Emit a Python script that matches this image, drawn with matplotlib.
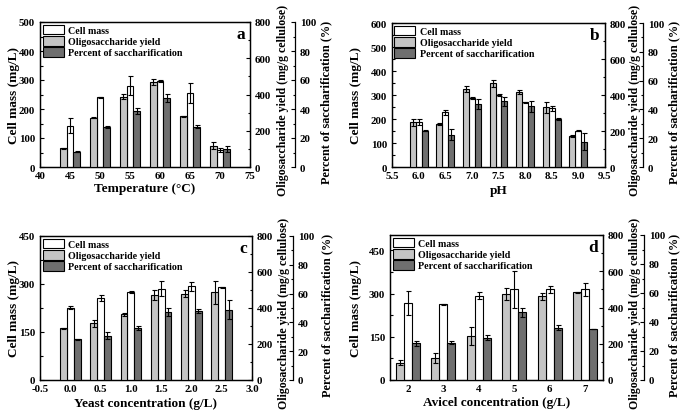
import matplotlib
matplotlib.use("Agg")
import matplotlib.pyplot as plt
from matplotlib.patches import Patch
from matplotlib.ticker import MultipleLocator, FormatStrFormatter

plt.rcParams['font.family'] = ['Liberation Serif', 'DejaVu Serif']
plt.rcParams['font.weight'] = 'bold'
plt.rcParams['axes.labelweight'] = 'bold'

# ---------------- data ----------------
# Panel a: temperature
temp = [45, 50, 55, 60, 65, 70]
temp_cell = [142, 240, 281, 297, 255, 59]
temp_cell_err = [26, 2, 34, 3, 34, 8]
temp_oligo = [103, 273, 388, 471, 279, 118]
temp_oligo_err = [3, 4, 13, 17, 5, 20]
temp_pct = [10.6, 27.9, 38.8, 47.6, 27.9, 12.2]
temp_pct_err = [0.5, 0.7, 2.0, 3.0, 1.2, 2.0]

# Panel b: pH
ph = [6.0, 6.5, 7.0, 7.5, 8.0, 8.5, 9.0]
ph_cell = [187, 228, 287, 300, 269, 245, 152]
ph_cell_err = [14, 10, 3, 3, 3, 10, 2]
ph_oligo = [248, 239, 434, 465, 417, 331, 173]
ph_oligo_err = [18, 5, 15, 20, 12, 32, 5]
ph_pct = [25.3, 22.5, 43.7, 45.5, 42.1, 33.3, 17.5]
ph_pct_err = [0.6, 4.0, 3.5, 3.0, 4.0, 0.8, 6.0]

# Panel c: yeast concentration
yeast = [0.0, 0.5, 1.0, 1.5, 2.0, 2.5]
yeast_cell = [226, 256, 274, 285, 293, 290]
yeast_cell_err = [5, 10, 3, 24, 14, 2]
yeast_oligo = [288, 314, 365, 474, 480, 487]
yeast_oligo_err = [2, 22, 10, 28, 20, 65]
yeast_pct = [28.4, 30.7, 36.0, 47.0, 47.7, 48.8]
yeast_pct_err = [0.4, 2.5, 1.2, 2.8, 1.5, 6.5]

# Panel d: Avicel concentration
avicel = [2, 3, 4, 5, 6, 7]
avicel_cell = [266, 262, 292, 314, 314, 314]
avicel_cell_err = [42, 2, 12, 64, 12, 22]
avicel_oligo = [95, 123, 242, 474, 461, 483]
avicel_oligo_err = [14, 28, 50, 35, 20, 3]
avicel_pct = [25.2, 25.6, 29.3, 46.7, 36.2, 35.2]
avicel_pct_err = [1.5, 1.0, 2.0, 3.0, 2.0, 0.3]

labels = ["Cell mass", "Oligosaccharide yield", "Percent of saccharification"]
colors = ["white", "#c4c4c4", "#6f6f6f"]

W, H = 685, 414
fig = plt.figure(figsize=(W / 100, H / 100), dpi=100)

def px_axes(l, r, t, b):
    return fig.add_axes([l / W, 1 - b / H, (r - l) / W, (b - t) / H])

def style(ax):
    ax.tick_params(direction='in', which='both', labelsize=7.8, width=0.8)
    ax.tick_params(which='major', length=3)
    ax.tick_params(which='minor', length=1.8)
    for s in ax.spines.values():
        s.set_linewidth(0.9)

def panel(box, x, cell, cell_err, oligo, oligo_err, pct, pct_err,
          xlim, xticks, xfmt, cell_max, cell_step, xlabel, letter,
          spine2_px, lab_px):
    l, r, t, b = box
    width_px = r - l
    ax = px_axes(l, r, t, b)
    ax2 = ax.twinx()
    ax3 = ax.twinx()
    ax3.spines['right'].set_position(('axes', 1 + spine2_px / width_px))
    ax3.spines['left'].set_visible(False)
    ax3.spines['top'].set_visible(False)
    ax3.spines['bottom'].set_visible(False)

    spacing = xticks[1] - xticks[0]
    w = 0.225 * spacing
    ekw = dict(ecolor='black', elinewidth=0.8, capsize=1.8, capthick=0.8)
    ax.bar([v for v in x], cell, width=w, color=colors[0], edgecolor='black',
           linewidth=0.8, yerr=cell_err, error_kw=ekw, zorder=3)
    ax2.bar([v - w for v in x], oligo, width=w, color=colors[1], edgecolor='black',
            linewidth=0.8, yerr=oligo_err, error_kw=ekw, zorder=3)
    ax3.bar([v + w for v in x], pct, width=w, color=colors[2], edgecolor='black',
            linewidth=0.8, yerr=pct_err, error_kw=ekw, zorder=3)

    ax.set_xlim(*xlim)
    ax.set_xticks(xticks)
    if xfmt:
        ax.xaxis.set_major_formatter(FormatStrFormatter(xfmt))
    ax.set_ylim(0, cell_max)
    ax.yaxis.set_major_locator(MultipleLocator(cell_step))
    ax.yaxis.set_minor_locator(MultipleLocator(cell_step / 2))
    ax2.set_ylim(0, 800)
    ax2.yaxis.set_major_locator(MultipleLocator(200))
    ax2.yaxis.set_minor_locator(MultipleLocator(100))
    ax3.set_ylim(0, 100)
    ax3.yaxis.set_major_locator(MultipleLocator(20))
    ax3.yaxis.set_minor_locator(MultipleLocator(10))
    for a in (ax, ax2, ax3):
        style(a)
    ax.tick_params(axis='x', pad=3)

    ax.set_xlabel(xlabel, fontsize=9.5)
    ax.set_ylabel("Cell mass (mg/L)", fontsize=9.5)
    ax2.set_ylabel("Oligosaccharide yield (mg/g cellulose)", fontsize=8.6)
    ax3.set_ylabel("Percent of saccharification (%)", fontsize=8.8)
    hpx = b - t
    ax.xaxis.set_label_coords(0.5, -(lab_px[3] - b) / hpx)
    ax.yaxis.set_label_coords((lab_px[0] - l) / width_px, 0.5)
    ax2.yaxis.set_label_coords((lab_px[1] - l) / width_px, 1 - (lab_px[4] - t) / hpx)
    ax3.yaxis.set_label_coords((lab_px[2] - l) / width_px, 1 - (lab_px[5] - t) / hpx)

    ax3.text(0.975, 0.975, letter, transform=ax3.transAxes, ha='right', va='top',
             fontsize=12.5, fontweight='bold')
    handles = [Patch(facecolor=c, edgecolor='black', linewidth=0.8) for c in colors]
    ax3.legend(handles, labels, loc='upper left', frameon=False,
               prop={'size': 7.2, 'weight': 'bold'},
               handlelength=2.1, handleheight=1.15, labelspacing=0.08,
               borderaxespad=0.15, borderpad=0.1, handletextpad=0.45)
    return ax

panel((40, 250, 23, 168), temp, temp_cell, temp_cell_err, temp_oligo, temp_oligo_err,
      temp_pct, temp_pct_err, (40, 75), [40, 45, 50, 55, 60, 65, 70, 75], None,
      500, 100, "Temperature (\u00b0C)", "a", 45, (20, 277, 320, 183, 100, 102))

panel((392, 605, 24, 168), ph, ph_cell, ph_cell_err, ph_oligo, ph_oligo_err,
      ph_pct, ph_pct_err, (5.5, 9.5), [5.5, 6.0, 6.5, 7.0, 7.5, 8.0, 8.5, 9.0, 9.5], '%.1f',
      600, 100, "pH", "b", 38, (362, 629, 668, 185, 100, 102))

panel((40, 252, 237, 381), yeast, yeast_cell, yeast_cell_err, yeast_oligo, yeast_oligo_err,
      yeast_pct, yeast_pct_err, (-0.5, 3.0), [-0.5, 0.0, 0.5, 1.0, 1.5, 2.0, 2.5, 3.0], '%.1f',
      450, 150, "Yeast concentration (g/L)", "c", 41, (20, 278, 321, 398, 313, 315))

panel((390, 603, 236, 381), avicel, avicel_cell, avicel_cell_err, avicel_oligo, avicel_oligo_err,
      avicel_pct, avicel_pct_err, (1.5, 7.5), [2, 3, 4, 5, 6, 7], None,
      503, 150, "Avicel concentration (g/L)", "d", 41, (362, 629, 668, 397, 313, 315))

fig.savefig("out.png", dpi=100)
